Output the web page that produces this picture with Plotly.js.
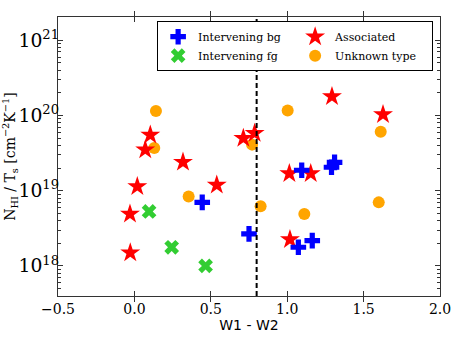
<!DOCTYPE html>
<html>
<head>
<meta charset="utf-8">
<script src="https://cdn.plot.ly/plotly-3.0.1.min.js"></script>
<style>
  body { margin: 0; background: #fff; }
  #chart { width: 463px; height: 348px; }
</style>
</head>
<body>
<div id="chart"></div>
<script>
// values (W1-W2 colour, N_HI/T_s)
let bgX = [0.444, 0.75, 1.073, 1.164, 1.095, 1.29, 1.31];
let bgY = [7.0e18, 2.67e18, 1.77e18, 2.17e18, 1.87e19, 2.05e19, 2.38e19];

let fgX = [0.096, 0.244, 0.466];
let fgY = [5.3e18, 1.77e18, 1.0e18];

let assocX = [0.019, -0.029, -0.027, 0.539, 0.104, 0.071, 0.318, 0.713, 0.787, 1.293, 1.627, 1.014, 1.154, 1.018];
let assocY = [1.14e19, 4.9e18, 1.5e18, 1.19e19, 5.5e19, 3.5e19, 2.4e19, 5.0e19, 5.8e19, 1.79e20, 1.03e20, 1.69e19, 1.69e19, 2.24e18];

let unkX = [0.141, 0.130, 0.355, 0.770, 1.003, 1.612, 0.826, 1.112, 1.599];
let unkY = [1.15e20, 3.7e19, 8.4e18, 4.1e19, 1.17e20, 6.1e19, 6.2e18, 4.9e18, 7.0e18];

let cutX = 0.8; // dashed divider

// minor log ticks (2..9 per decade), no labels
let minorVals = [];
[17, 18, 19, 20, 21].forEach(d => {
  for (let m = 2; m <= 9; m++) minorVals.push(m * Math.pow(10, d));
});

const serif = "DejaVu Serif, serif";

function mk(x, y, name, symbol, color, size, rank) {
  return {
    x: x, y: y, name: name, type: 'scatter', mode: 'markers',
    legendrank: rank,
    marker: {symbol: symbol, color: color, size: size, line: {width: 0}}
  };
}

let data = [
  mk(unkX, unkY, 'Unknown type', 'circle', '#ffa500', 12, 4),
  mk(assocX, assocY, 'Associated', 'star', '#ff0000', 15, 2),
  mk(bgX, bgY, 'Intervening bg', 'cross', '#0000ff', 13, 1),
  mk(fgX, fgY, 'Intervening fg', 'x', '#32cd32', 13, 3),
  // invisible trace to carry the minor-tick axis
  {x: [0], y: [1e19], yaxis: 'y2', type: 'scatter', mode: 'markers',
   marker: {opacity: 0}, showlegend: false, hoverinfo: 'skip'}
];

let layout = {
  width: 463, height: 348,
  margin: {l: 58, r: 23, t: 17, b: 52},
  paper_bgcolor: '#fff', plot_bgcolor: '#fff',
  font: {family: serif, size: 14, color: '#000'},
  showlegend: true,
  legend: {
    orientation: 'h', x: 0.982, y: 0.985, xanchor: 'right', yanchor: 'top',
    entrywidth: 92, entrywidthmode: 'pixels',
    bgcolor: '#fff', bordercolor: '#000', borderwidth: 1,
    font: {family: serif, size: 11}, tracegroupgap: 0
  },
  xaxis: {
    range: [-0.5, 2.0], dtick: 0.5, tick0: 0, tickformat: '.1f',
    ticks: 'inside', ticklen: 5, tickcolor: '#333', showgrid: false, zeroline: false,
    showline: true, linecolor: '#333', linewidth: 1, mirror: 'allticks',
    tickfont: {family: serif, size: 14},
    title: {text: 'W1 - W2', font: {family: 'DejaVu Sans, sans-serif', size: 14}, standoff: 4}
  },
  yaxis: {
    type: 'log', range: [17.6, 21.31], dtick: 1, exponentformat: 'power',
    ticks: 'inside', ticklen: 5, tickcolor: '#333', showgrid: false, zeroline: false,
    showline: true, linecolor: '#333', linewidth: 1, mirror: 'allticks',
    tickfont: {family: serif, size: 15}, ticklabelstandoff: -5,
    title: {text: 'N<sub>HI</sub> / T<sub>s</sub> [cm<sup>−2</sup>K<sup>−1</sup>]', font: {family: serif, size: 14}, standoff: 4}
  },
  yaxis2: {
    type: 'log', range: [17.6, 21.31], overlaying: 'y', side: 'left',
    tickmode: 'array', tickvals: minorVals, showticklabels: false,
    ticks: 'inside', ticklen: 3, tickcolor: '#333', showgrid: false, zeroline: false,
    showline: false, mirror: 'allticks'
  },
  shapes: [{
    type: 'line', xref: 'x', yref: 'paper', x0: cutX, x1: cutX, y0: 0, y1: 1,
    line: {color: '#000', width: 2, dash: '5px,3px'}
  }]
};

Plotly.newPlot('chart', data, layout, {displayModeBar: false});
</script>
</body>
</html>
